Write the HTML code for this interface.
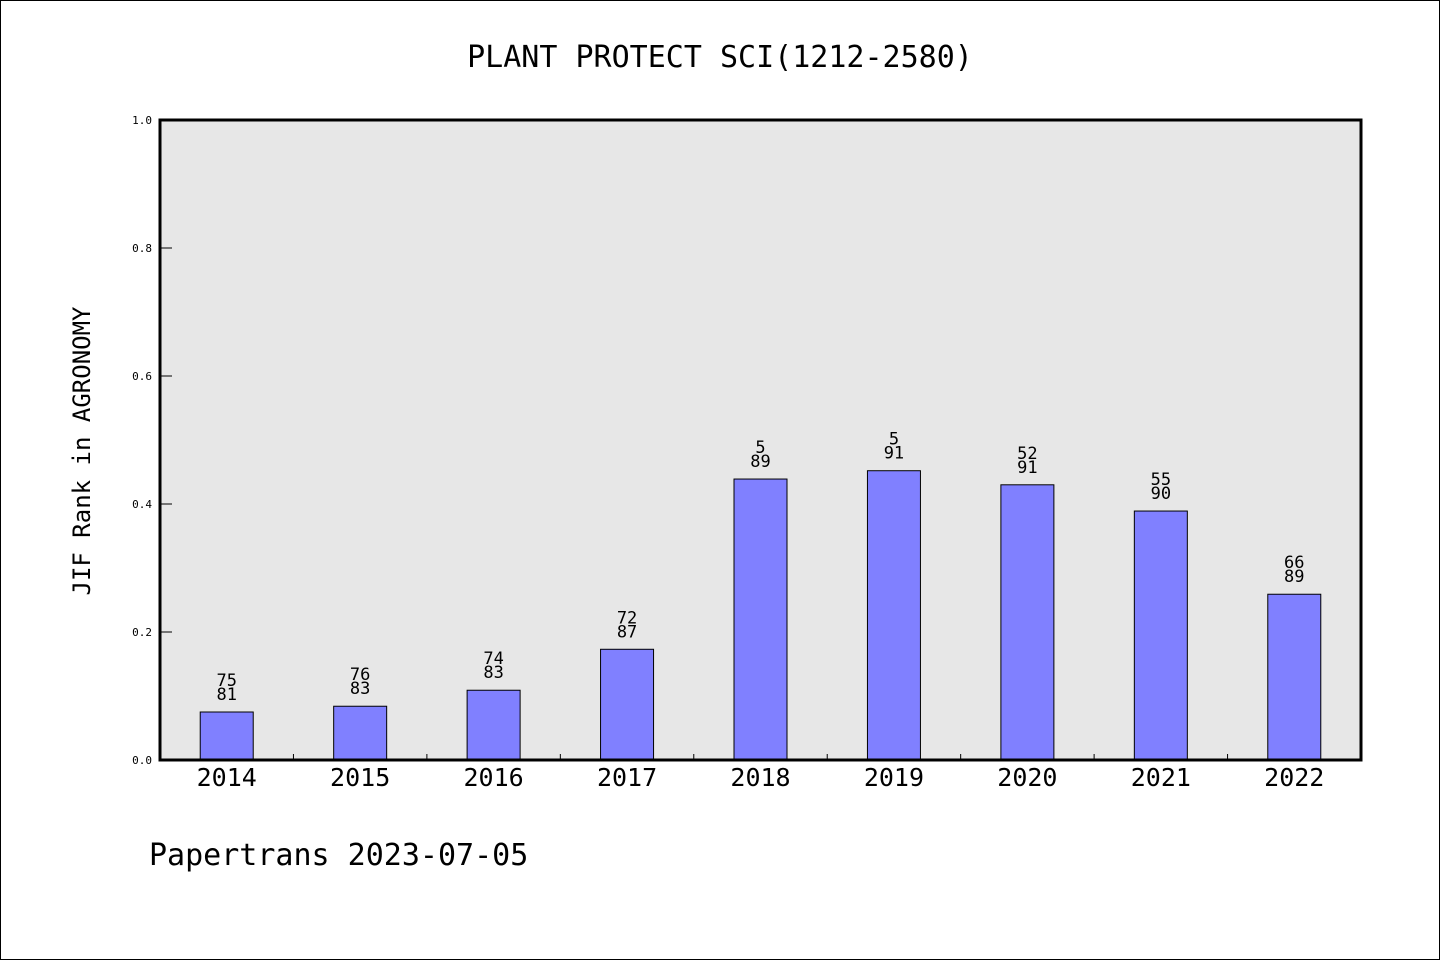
<!DOCTYPE html>
<html><head><meta charset="utf-8"><style>
html,body{margin:0;padding:0;background:#fff;}
#wrap{position:relative;width:1438px;height:958px;border:1px solid #000;background:#fff;}
svg text{font-family:"DejaVu Sans Mono","Liberation Mono",monospace;}
</style></head><body>
<div id="wrap">
<svg id="chart" width="1438" height="958"></svg>
</div>
<script>
const categories=["2014","2015","2016","2017","2018","2019","2020","2021","2022"];
const values=[0.075,0.084,0.109,0.173,0.439,0.452,0.430,0.389,0.259];
const rankLabels=["75","76","74","72","5","5","52","55","66"];
const totalLabels=["81","83","83","87","89","91","91","90","89"];
const yTicks=[0,0.2,0.4,0.6,0.8,1.0];
const yTickLabels=["0.0","0.2","0.4","0.6","0.8","1.0"];

const NS="http://www.w3.org/2000/svg";
const svg=document.getElementById('chart');
const L=159,R=1360,T=119,B=759;
const y=v=>B-(B-T)*v;
const band=(R-L)/categories.length;
const x=i=>L+band*(i+0.5);
function mk(tag,attrs,parent){const e=document.createElementNS(NS,tag);for(const k in attrs)e.setAttribute(k,attrs[k]);(parent||svg).appendChild(e);return e;}

const bg=mk('rect',{x:L,y:T,width:R-L,height:B-T,fill:'#e7e7e7'});



const title=mk('text',{x:719,y:66,'font-size':30,'text-anchor':'middle',fill:'#000'});
title.textContent='PLANT PROTECT SCI(1212-2580)';



const yt=mk('text',{x:0,y:0,'font-size':24,'text-anchor':'middle',transform:'translate(89,450) rotate(-90)',fill:'#000'});
yt.textContent='JIF Rank in AGRONOMY';



const foot=mk('text',{x:148,y:864,'font-size':30,fill:'#000'});
foot.textContent='Papertrans 2023-07-05';



yTicks.forEach((t,i)=>{
  const ln=mk('line',{x1:L,x2:L+12,y1:y(t),y2:y(t),stroke:'#000','stroke-width':1});
  
  
  const tx=mk('text',{x:L-8,y:y(t)+4,'font-size':11,'text-anchor':'end',fill:'#000'});
  tx.textContent=yTickLabels[i];
  
  
});

const bw=53;
categories.forEach((c,i)=>{
  const cx=x(i);
  const b=mk('rect',{x:cx-bw/2,y:y(values[i]),width:bw,height:B-y(values[i]),fill:'#8080ff',stroke:'#000','stroke-width':1});
  
  
  const t1=mk('text',{x:cx,y:y(values[i])-26,'font-size':17,'text-anchor':'middle',fill:'#000'});
  t1.textContent=rankLabels[i];
  
  
  const t2=mk('text',{x:cx,y:y(values[i])-12,'font-size':17,'text-anchor':'middle',fill:'#000'});
  t2.textContent=totalLabels[i];
  
  
  const xl=mk('text',{x:cx,y:B+26,'font-size':25,'text-anchor':'middle',fill:'#000'});
  xl.textContent=c;
  
  
  if(i>0){
    const tk=mk('line',{x1:L+band*i,x2:L+band*i,y1:B-6,y2:B,stroke:'#000','stroke-width':1});
    
    
  }
});

const fr=mk('rect',{x:L,y:T,width:R-L,height:B-T,fill:'none',stroke:'#000','stroke-width':3});


</script>
</body></html>
